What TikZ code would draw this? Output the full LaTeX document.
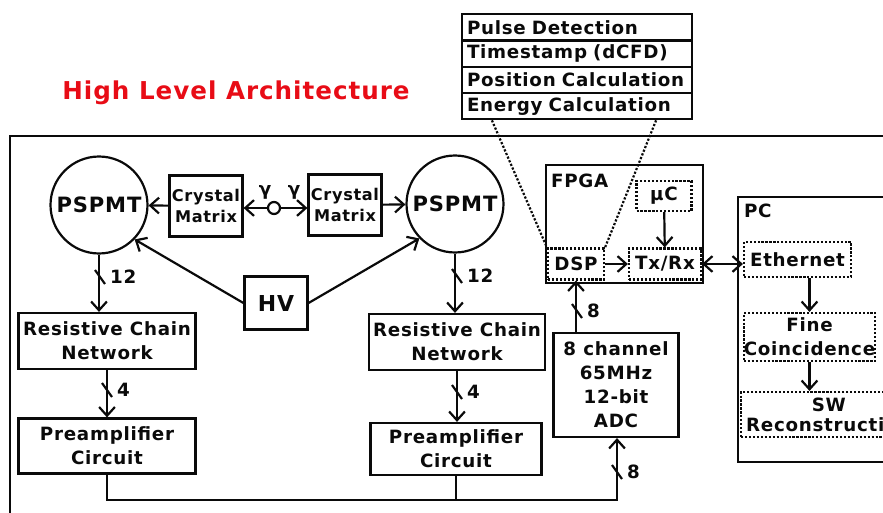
\documentclass[tikz,border=0pt]{standalone}
\usepackage{fontspec}
\setmainfont{DejaVu Sans}[LetterSpace=4]
\usepackage{tikz}
\usetikzlibrary{arrows.meta}
\definecolor{titlered}{RGB}{232,12,22}
\definecolor{inkblack}{RGB}{10,10,10}

\begin{document}
\begin{tikzpicture}[x=0.02cm, y=-0.02cm, line width=1.25pt, draw=inkblack,
    every node/.style={font=\bfseries\fontsize{10.4}{13.6}\selectfont, align=center, text=inkblack},
    box/.style={draw, rectangle, inner sep=0pt},
    dotbox/.style={draw, densely dotted, rectangle, inner sep=0pt},
    tube/.style={draw, circle, minimum size=1.94cm, inner sep=0pt, font=\bfseries\fontsize{12}{14}\selectfont},
    crystal/.style={box, minimum width=1.46cm, minimum height=1.22cm, font=\bfseries\fontsize{9.2}{12}\selectfont},
    tag/.style={anchor=west, inner sep=0pt},
    arr/.style={-{Straight Barb[length=5pt,width=9pt]}},
    darr/.style={{Straight Barb[length=5pt,width=9pt]}-{Straight Barb[length=5pt,width=9pt]}}]
    \useasboundingbox (0,0) rectangle (883,513);
    \draw[line width=1.5pt] (10,620) |- (960,136);
    \node[text=titlered, font=\bfseries\fontsize{14}{17}\selectfont] (title) at (236,93) {High Level Architecture};

    \node[tube] (pmL) at (99,205) {PSPMT};
    \node[tube] (pmR) at (455,204) {PSPMT};
    \node[crystal] (cmL) at (206,206) {Crystal\\Matrix};
    \node[crystal] (cmR) at (345,205) {Crystal\\Matrix};
    \node[draw, circle, minimum size=0.24cm, inner sep=0pt] (src) at (274,208) {};
    \node (gL) at (265,192) {γ};
    \node (gR) at (294,192) {γ};
    \node[box, minimum width=1.26cm, minimum height=1.06cm, font=\bfseries\fontsize{12.5}{14}\selectfont] (hv) at (276,303) {HV};

    \node[box, minimum width=3.54cm, minimum height=1.12cm] (rcL) at (107,341) {Resistive Chain\\Network};
    \node[box, minimum width=3.54cm, minimum height=1.1cm] (preL) at (107,446) {Preamplifier\\Circuit};
    \node[box, minimum width=3.52cm, minimum height=1.12cm] (rcR) at (457,342) {Resistive Chain\\Network};
    \node[box, minimum width=3.42cm, minimum height=1.04cm] (preR) at (456,449) {Preamplifier\\Circuit};
    \node[box, minimum width=2.5cm, minimum height=2.08cm] (adc) at (616,385) {8 channel\\65MHz\\12-bit\\ADC};

    \node[box, minimum width=3.14cm, minimum height=2.36cm] (fpga) at (624.5,224) {};
    \node[tag] (fpgalbl) at (550,181) {FPGA};
    \node[dotbox, minimum width=1.12cm, minimum height=0.62cm] (dsp) at (576,264) {DSP};
    \node[dotbox, minimum width=1.44cm, minimum height=0.62cm] (txrx) at (665,264) {Tx/Rx};
    \node[dotbox, minimum width=1.1cm, minimum height=0.6cm] (uc) at (664,196) {μC};

    \node[box, minimum width=3.24cm, minimum height=5.3cm] (pc) at (819,329.5) {};
    \node[tag] (pclbl) at (743,211) {PC};
    \node[dotbox, minimum width=2.14cm, minimum height=0.7cm] (eth) at (797.5,259.5) {Ethernet};
    \node[dotbox, minimum width=2.54cm, minimum height=0.96cm] (fine) at (809.5,337) {Fine\\Coincidence};
    \node[dotbox, anchor=west, minimum height=0.9cm, inner xsep=0.1cm, font=\bfseries\fontsize{10.4}{11.5}\selectfont] (sw) at (740,414.5) {SW\\Reconstruction};

    \foreach \t [count=\i] in {Pulse Detection, Timestamp (dCFD), Position Calculation, Energy Calculation}
        \node[box, minimum height=0.525cm, text width=4.4cm, inner xsep=0.1cm, align=left] (row\i) at (577,{1.125+26.25*\i}) {\t};

    \draw[arr] (cmL) -- (pmL);
    \draw[arr] (cmR) -- (pmR);
    \draw[arr] (src) -- (src -| cmL.east);
    \draw[arr] (src) -- (src -| cmR.west);
    \draw[arr] (hv.west) -- (pmL.-44);
    \draw[arr] (hv.east) -- (pmR.-136);
    \draw[arr] (pmL.south) -- (pmL.south |- rcL.north);
    \draw[arr] (pmR.south) -- (pmR.south |- rcR.north);
    \draw[arr] (rcL) -- (preL);
    \draw[arr] (rcR.south) -- (rcR.south |- preR.north);
    \coordinate (busend) at (617,500);
    \draw[arr] (preL.south) |- (busend) -- (busend |- adc.south);
    \draw (preR.south) -- (preR.south |- busend);
    \draw[arr] (adc.north -| dsp.south) -- (dsp.south);
    \draw[arr] (dsp) -- (txrx);
    \draw[arr] (uc) -- (txrx);
    \draw[darr] (txrx.east) -- (txrx.east -| eth.west);
    \draw[arr] (eth.south -| fine.north) -- (fine.north);
    \draw[arr] (fine.south) -- (fine.south |- sw.north);
    \draw[densely dotted] ([xshift=0.62cm]row4.south west) -- (dsp.north west);
    \draw[densely dotted] ([xshift=-0.74cm]row4.south east) -- (dsp.north east);

    \foreach \x/\y/\n [count=\k] in {100/277/12, 457/276/12, 107/390/4, 457/392/4, 577/311/8, 617/472/8} {
        \draw (\x-5,\y-7) -- (\x+5,\y+7);
        \node[tag] (w\k) at (\x+9,\y) {\n};
    }
\end{tikzpicture}
\end{document}
